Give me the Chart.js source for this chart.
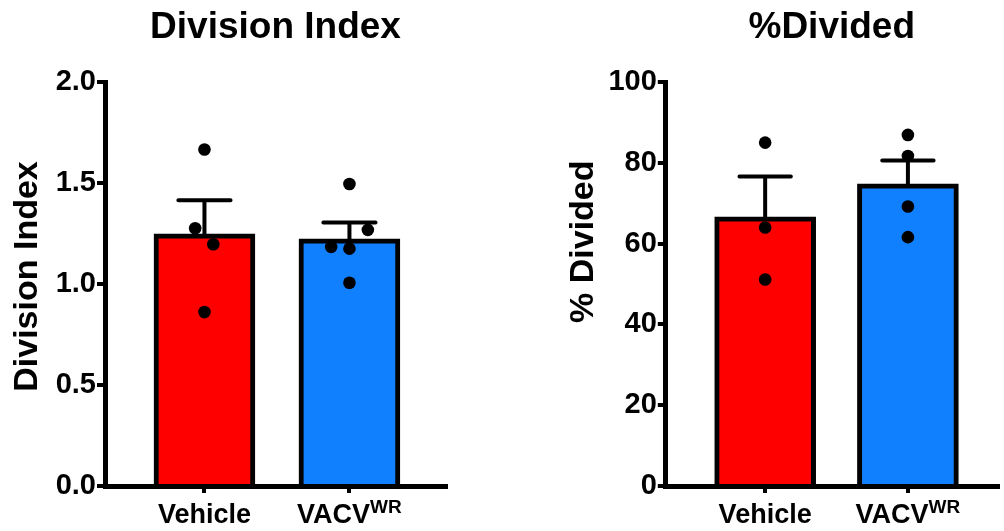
<!DOCTYPE html>
<html>
<head>
<meta charset="utf-8">
<script src="https://cdn.jsdelivr.net/npm/chart.js@4/dist/chart.umd.min.js"></script>
<style>
  html, body { margin: 0; padding: 0; background: #fff; }
  #wrap { position: relative; width: 1004px; height: 531px; overflow: hidden; }
  canvas { position: absolute; top: 0; }
  #divChart { left: 0; }
  #pctChart { left: 530px; }
</style>
</head>
<body>
<div id="wrap">
  <canvas id="divChart" width="470" height="531"></canvas>
  <canvas id="pctChart" width="474" height="531"></canvas>
</div>
<script>
// Groups
const categories = ['Vehicle', 'VACV'];
const categorySup = ['', 'WR'];
const barColors = ['#fe0000', '#1180fe'];

// Division index: group means, SEM and individual animals
const divIndexMean = [1.248, 1.223];
const divIndexSem = [0.166, 0.082];
const divIndexVehicle = [1.666, 1.276, 1.197, 0.861];
const divIndexVacv = [1.495, 1.268, 1.184, 1.175, 1.006];
const divIndexVehicleJitter = [0, -0.064, 0.061, 0];
const divIndexVacvJitter = [0, 0.127, -0.126, 0, 0];
const divIndexTicks = [0, 0.5, 1.0, 1.5, 2.0];

// Percent divided: group means, SEM and individual animals
const pctMean = [66.6, 74.8];
const pctSem = [10.0, 5.8];
const pctVehicle = [85.0, 64.0, 51.1];
const pctVacv = [86.9, 81.7, 69.2, 61.6];
const pctVehicleJitter = [0, 0, 0];
const pctVacvJitter = [0, 0, 0, 0];
const pctTicks = [0, 20, 40, 60, 80, 100];

const FONT = '"Liberation Sans", Arial, Helvetica, sans-serif';
Chart.defaults.font.family = FONT;
Chart.defaults.color = '#000';

const CAP_HALF = 0.18;

function errorBar(i, mean, sem) {
  const top = mean + sem;
  return {
    type: 'line',
    order: 2,
    data: [{x: i, y: mean}, {x: i, y: top}, {x: i - CAP_HALF, y: top}, {x: i + CAP_HALF, y: top}],
    borderColor: '#000',
    borderWidth: 4,
    borderCapStyle: 'round',
    borderJoinStyle: 'round',
    pointRadius: 0,
    fill: false,
    tension: 0
  };
}

function dots(i, values, jitter) {
  return {
    type: 'scatter',
    order: 1,
    data: values.map((v, k) => ({x: i + jitter[k], y: v})),
    pointRadius: 6.3,
    pointBackgroundColor: '#000',
    pointBorderWidth: 0,
    borderColor: '#000'
  };
}

const groupLabels = {
  id: 'groupLabels',
  afterDraw(chart, args, opts) {
    const {ctx, chartArea} = chart;
    const x = chart.scales.x;
    ctx.save();
    ctx.fillStyle = '#000';
    ctx.textBaseline = 'alphabetic';
    ctx.textAlign = 'left';
    const base = chartArea.bottom + 36.7;
    categories.forEach((name, i) => {
      ctx.font = 'bold 27px ' + FONT;
      const w1 = ctx.measureText(name).width;
      const sup = categorySup[i];
      ctx.font = 'bold 19px ' + FONT;
      const w2 = sup ? ctx.measureText(sup).width : 0;
      const left = x.getPixelForValue(i) - (w1 + w2) / 2;
      ctx.font = 'bold 27px ' + FONT;
      ctx.fillText(name, left, base);
      if (sup) {
        ctx.font = 'bold 19px ' + FONT;
        ctx.fillText(sup, left + w1, base - 9.4);
      }
    });
    ctx.translate(opts.titleX, opts.titleY);
    ctx.rotate(-Math.PI / 2);
    ctx.textAlign = 'center';
    ctx.font = 'bold 34px ' + FONT;
    ctx.fillText(opts.yTitle, 0, 0);
    ctx.restore();
  }
};

function build(canvasId, s) {
  return new Chart(document.getElementById(canvasId), {
    type: 'bar',
    data: {
      datasets: [
        {
          type: 'bar',
          order: 3,
          data: s.mean.map((m, i) => ({x: i, y: m})),
          backgroundColor: barColors,
          borderColor: '#000',
          borderWidth: 5,
          borderSkipped: 'bottom',
          barThickness: 101
        },
        errorBar(0, s.mean[0], s.sem[0]),
        errorBar(1, s.mean[1], s.sem[1]),
        dots(0, s.vehicle, s.vehicleJitter),
        dots(1, s.vacv, s.vacvJitter)
      ]
    },
    options: {
      responsive: false,
      devicePixelRatio: 1,
      animation: false,
      events: [],
      layout: {padding: {top: 0, left: 0, bottom: 0, right: s.padRight}},
      plugins: {
        legend: {display: false},
        tooltip: {enabled: false},
        title: {
          display: true,
          text: s.title,
          color: '#000',
          fullSize: false,
          font: {size: 37, weight: 'bold'},
          padding: {top: 6, bottom: 31.6}
        },
        groupLabels: {yTitle: s.yTitle, titleX: s.yTitleX, titleY: s.yTitleY}
      },
      scales: {
        x: {
          type: 'linear',
          min: s.xMin,
          max: s.xMax,
          offset: false,
          afterBuildTicks: sc => { sc.ticks = categories.map((c, i) => ({value: i})); },
          afterFit: sc => { sc.height = 45; },
          ticks: {callback: () => ''},
          grid: {offset: false, drawOnChartArea: false, tickLength: 7, lineWidth: 4, color: '#000'},
          border: {display: true, width: 5, color: '#000'}
        },
        y: {
          min: s.ticks[0],
          max: s.ticks[s.ticks.length - 1],
          afterBuildTicks: sc => { sc.ticks = s.ticks.map(v => ({value: v})); },
          afterFit: sc => { sc.width = s.axisLeft; },
          ticks: {
            color: '#000',
            padding: 1,
            font: {size: 29, weight: 'bold'},
            callback: s.fmt
          },
          grid: {drawOnChartArea: false, tickLength: 8, lineWidth: 4, color: '#000'},
          border: {display: true, width: 5, color: '#000'}
        }
      }
    },
    plugins: [groupLabels]
  });
}

build('divChart', {
  title: 'Division Index',
  yTitle: 'Division Index',
  yTitleX: 37, yTitleY: 276.5,
  mean: divIndexMean, sem: divIndexSem,
  vehicle: divIndexVehicle, vacv: divIndexVacv,
  vehicleJitter: divIndexVehicleJitter, vacvJitter: divIndexVacvJitter,
  ticks: divIndexTicks,
  fmt: v => Number(v).toFixed(1),
  axisLeft: 105, padRight: 24,
  xMin: -0.686, xMax: 1.666
});

build('pctChart', {
  title: '%Divided',
  yTitle: '% Divided',
  yTitleX: 63, yTitleY: 241.7,
  mean: pctMean, sem: pctSem,
  vehicle: pctVehicle, vacv: pctVacv,
  vehicleJitter: pctVehicleJitter, vacvJitter: pctVacvJitter,
  ticks: pctTicks,
  fmt: v => String(Math.round(v)),
  axisLeft: 135.8, padRight: 0,
  xMin: -0.696, xMax: 1.629
});
</script>
</body>
</html>
